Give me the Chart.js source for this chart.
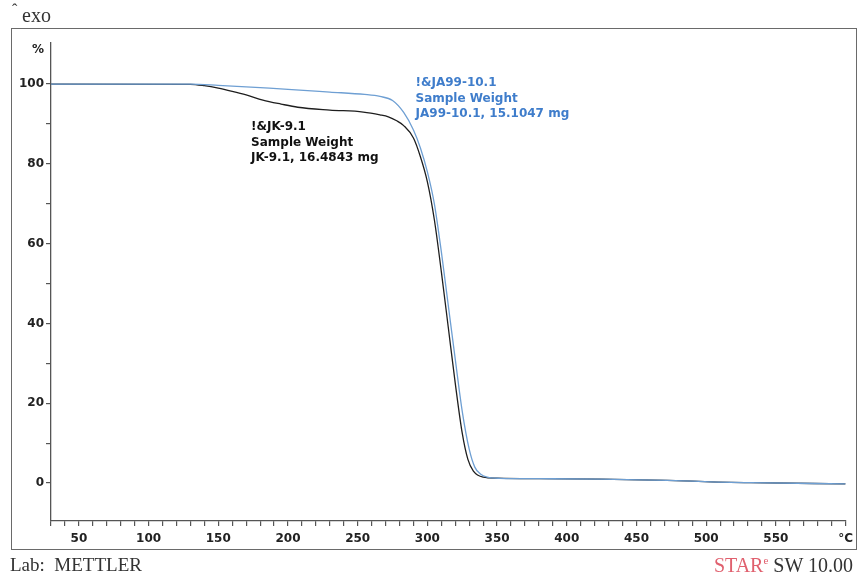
<!DOCTYPE html>
<html>
<head>
<meta charset="utf-8">
<script src="https://cdn.jsdelivr.net/npm/chart.js@4/dist/chart.umd.min.js"></script>
<style>
  html, body { margin: 0; padding: 0; background: #fff; }
  #wrap { position: relative; width: 859px; height: 582px; overflow: hidden; }
  #frame { position: absolute; left: 11px; top: 28px; width: 846px; height: 522px; box-sizing: border-box; border: 1.5px solid #6a6a6a; }
  canvas { position: absolute; left: 0; top: 0; }
  .serif { position: absolute; font-family: "Liberation Serif", "DejaVu Serif", serif; color: #333; white-space: pre; line-height: 1; }
  #caret { left: 12px; top: 2px; font-size: 16px; }
  #exo { left: 22px; top: 5px; font-size: 20px; }
  #lab { left: 10px; top: 555px; font-size: 19px; }
  #star { right: 6px; top: 555px; font-size: 20px; }
  #star .r { color: #e0606e; }
  #star sup { font-size: 11px; vertical-align: 8px; line-height: 0; }
</style>
</head>
<body>
<div id="wrap">
  <div id="frame"></div>
  <canvas id="c" width="859" height="582"></canvas>
  <div class="serif" id="caret">ˆ</div>
  <div class="serif" id="exo">exo</div>
  <div class="serif" id="lab">Lab:  METTLER</div>
  <div class="serif" id="star"><span class="r">STAR<sup>e</sup></span> SW 10.00</div>
</div>
<script>
// ---- data (temperature in °C, weight in %) ----
const tempJK = [30, 130, 140, 150, 160, 170, 182, 195, 207, 230, 254, 266, 272, 278, 283, 290, 295, 300, 305, 310, 315, 320, 325, 329, 333, 340, 350, 380, 424, 472, 508, 532, 600];
const weightJK = [100, 99.95, 99.6, 99.0, 98.2, 97.3, 96.0, 95.0, 94.2, 93.5, 93.0, 92.3, 91.8, 90.8, 89.6, 86.5, 81.8, 75.5, 66.0, 53.0, 39.0, 25.0, 12.5, 6.0, 3.0, 1.5, 1.25, 1.1, 1.0, 0.7, 0.25, 0.1, -0.2];

const tempJA = [30, 130, 150, 180, 200, 230, 255, 266, 275, 283, 290, 295, 300, 305, 310, 315, 320, 325, 330, 334, 338, 343, 352, 380, 424, 472, 508, 532, 600];
const weightJA = [100, 100, 99.7, 99.1, 98.7, 98.0, 97.4, 96.9, 95.9, 92.9, 88.5, 84.0, 78.0, 70.0, 58.0, 44.5, 31.0, 18.0, 8.5, 4.0, 2.3, 1.5, 1.2, 1.1, 1.0, 0.7, 0.25, 0.1, -0.2];

const xTicks = [30, 40, 50, 60, 70, 80, 90, 100, 110, 120, 130, 140, 150, 160, 170, 180, 190, 200, 210, 220, 230, 240, 250, 260, 270, 280, 290, 300, 310, 320, 330, 340, 350, 360, 370, 380, 390, 400, 410, 420, 430, 440, 450, 460, 470, 480, 490, 500, 510, 520, 530, 540, 550, 560, 570, 580, 590, 600];
const xLabeled = [50, 100, 150, 200, 250, 300, 350, 400, 450, 500, 550];
const xUnit = '°C';
const yTicks = [0, 10, 20, 30, 40, 50, 60, 70, 80, 90, 100];
const yLabeled = [0, 20, 40, 60, 80, 100];
const yUnit = '%';

const labelJK = ['!&JK-9.1', 'Sample Weight', 'JK-9.1, 16.4843 mg'];
const labelJKAt = [173.5, 89.2];
const labelJA = ['!&JA99-10.1', 'Sample Weight', 'JA99-10.1, 15.1047 mg'];
const labelJAAt = [291.5, 100.2];

const BLACK = '#1e1e1e';
const BLUE_LINE = '#6e9fd3';
const BLUE_TEXT = '#3f7dcb';
const AXIS = '#555';
const TICKFONT = { family: 'DejaVu Sans', weight: 'bold', size: 12 };

const toXY = (xs, ys) => xs.map((x, i) => ({ x: x, y: ys[i] }));

const annotations = {
  id: 'annotations',
  afterDatasetsDraw(chart) {
    const { ctx, scales: { x, y } } = chart;
    ctx.save();
    ctx.font = 'bold 12px "DejaVu Sans"';
    ctx.textAlign = 'left';
    ctx.textBaseline = 'middle';
    const draw = (lines, at, color) => {
      ctx.fillStyle = color;
      const px = x.getPixelForValue(at[0]);
      const py = y.getPixelForValue(at[1]);
      lines.forEach((t, i) => ctx.fillText(t, px, py + i * 15.2));
    };
    draw(labelJK, labelJKAt, '#111');
    draw(labelJA, labelJAAt, BLUE_TEXT);
    // unit label on top of y axis
    ctx.font = 'bold 12px "DejaVu Sans"';
    ctx.fillStyle = '#222';
    ctx.textAlign = 'right';
    ctx.fillText(yUnit, y.left + y.width - 7, y.top + 7);
    ctx.restore();
  }
};

new Chart(document.getElementById('c'), {
  type: 'scatter',
  data: {
    datasets: [
      { label: 'JA99-10.1', data: toXY(tempJA, weightJA), showLine: true, borderColor: BLUE_LINE, borderWidth: 1.3, pointRadius: 0, cubicInterpolationMode: 'monotone' },
      { label: 'JK-9.1', data: toXY(tempJK, weightJK), showLine: true, borderColor: BLACK, borderWidth: 1.3, pointRadius: 0, cubicInterpolationMode: 'monotone' }
    ]
  },
  options: {
    responsive: false,
    animation: false,
    devicePixelRatio: 1,
    layout: { padding: { top: 43, right: 12, left: 0, bottom: 0 } },
    plugins: { legend: { display: false }, tooltip: { enabled: false } },
    scales: {
      x: {
        type: 'linear', min: 30, max: 600,
        afterBuildTicks: s => { s.ticks = xTicks.map(v => ({ value: v })); },
        afterFit: s => { s.height = 61; },
        border: { display: true, color: AXIS, width: 1.3 },
        grid: { drawOnChartArea: false, drawTicks: true, tickLength: 5, color: AXIS, lineWidth: 1.2 },
        ticks: {
          autoSkip: false, maxRotation: 0, padding: 6, color: '#222', font: TICKFONT,
          callback: v => v === 600 ? xUnit : (xLabeled.includes(v) ? String(v) : '')
        }
      },
      y: {
        type: 'linear', min: -9.5, max: 110.3,
        afterBuildTicks: s => { s.ticks = yTicks.map(v => ({ value: v })); },
        afterFit: s => { s.width = 51; },
        border: { display: true, color: AXIS, width: 1.3 },
        grid: { drawOnChartArea: false, drawTicks: true, tickLength: 5, color: AXIS, lineWidth: 1.2 },
        ticks: {
          autoSkip: false, padding: 2, color: '#222', font: TICKFONT,
          callback: v => yLabeled.includes(v) ? String(v) : ''
        }
      }
    }
  },
  plugins: [annotations]
});
</script>
</body>
</html>
